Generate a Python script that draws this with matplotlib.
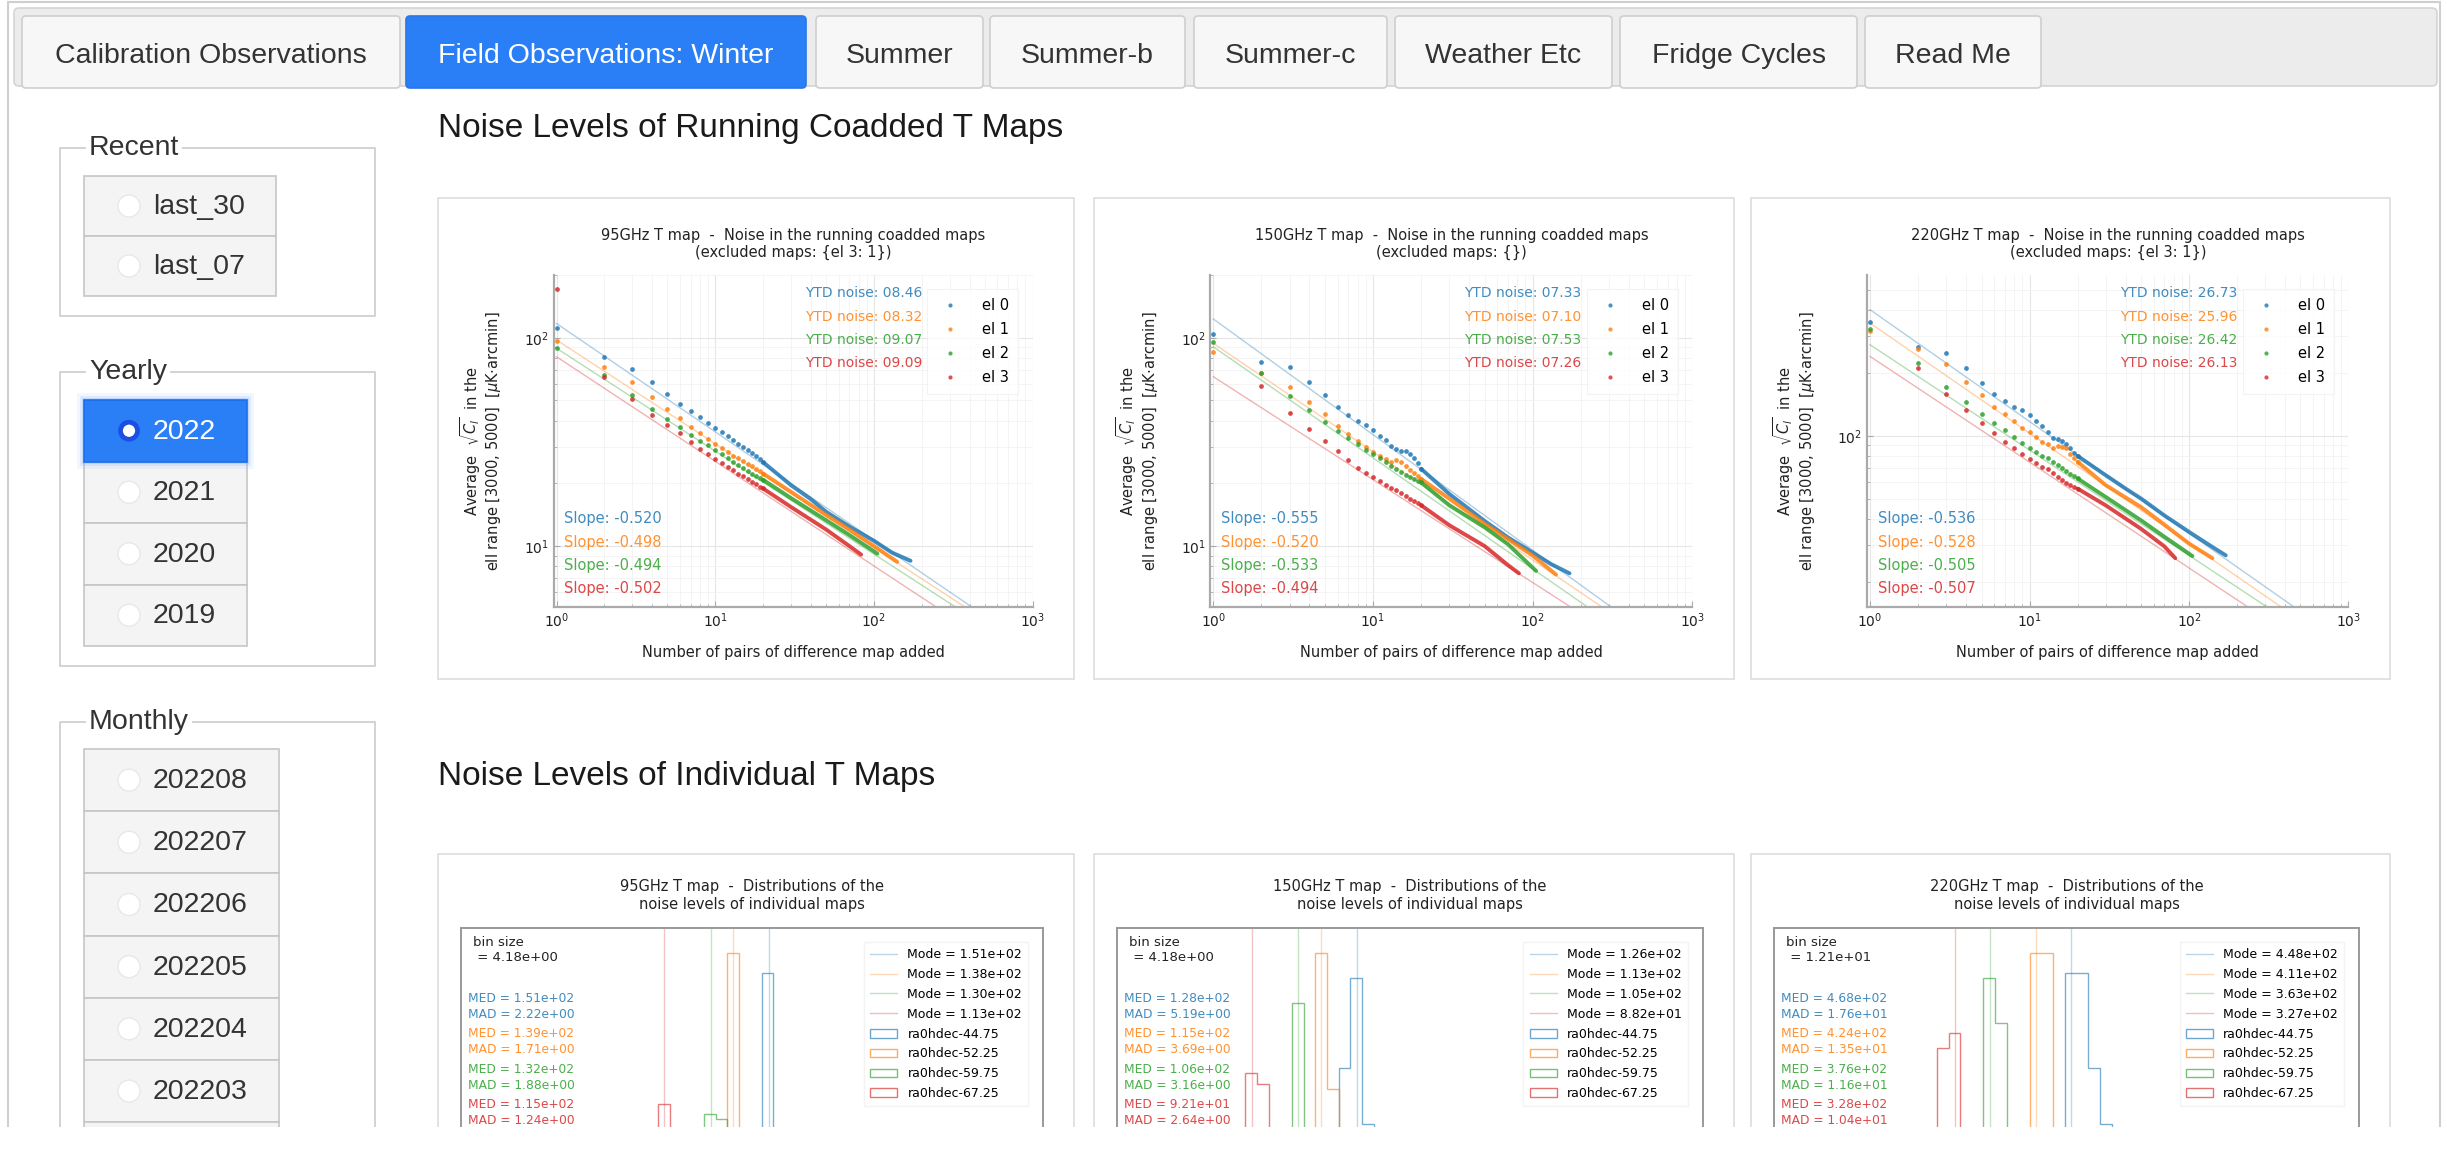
import numpy as np
import matplotlib
matplotlib.use("Agg")
import matplotlib.pyplot as plt
from matplotlib.patches import Rectangle, FancyBboxPatch, Circle, Patch
from matplotlib.lines import Line2D
from matplotlib.ticker import NullFormatter

# Parameters
W, H = 2447, 1149
UI_FONT = "Liberation Sans"
COLORS = ["#1f77b4", "#ff7f0e", "#2ca02c", "#d62728"]
EL_NAMES = ["el 0", "el 1", "el 2", "el 3"]
FIELD_NAMES = ["ra0hdec-44.75", "ra0hdec-52.25", "ra0hdec-59.75", "ra0hdec-67.25"]
nan = np.nan

# Page texts
tab_labels = ["Calibration Observations", "Field Observations: Winter", "Summer", "Summer-b",
              "Summer-c", "Weather Etc", "Fridge Cycles", "Read Me"]
recent_items = ["last_30", "last_07"]
yearly_items = ["2022", "2021", "2020", "2019"]
monthly_items = ["202208", "202207", "202206", "202205", "202204", "202203"]

# Data: running coadded noise levels (first 20 coadds as single points, then the dense tail)
bands = ["95GHz", "150GHz", "220GHz"]
excluded = ["{el 3: 1}", "{}", "{el 3: 1}"]
head_n = list(range(1, 21))

head_95 = [
    [111, 81, 71, 61, 53.4, 48, 44.4, 41.6, 39, 37, 35.2, 33.7, 32.3, 31.0, 29.9, 28.9, 28.0, 27.0, 26.1, 25.3],
    [96.3, 72, 61, 52, 45.7, 41.3, 37.3, 35, 32.8, 31, 29.6, 28.3, 27.2, 26.4, 25.7, 24.9, 24.2, 23.5, 22.9, 22.3],
    [88.8, 66, 53, 45.7, 40.6, 37.3, 34.3, 32, 30.5, 29, 27.6, 26.4, 25.4, 24.6, 23.8, 23.0, 22.3, 21.8, 21.3, 20.8],
    [171, 65, 51, 42.5, 38, 34.7, 31.6, 29.3, 27.8, 26.3, 25.1, 24.0, 23.1, 22.3, 21.6, 21.0, 20.4, 19.8, 19.3, 18.9],
]
tail_n_95 = [
    [20, 30, 40, 50, 70, 100, 130, 170],
    [20, 30, 50, 70, 100, 140],
    [20, 30, 50, 70, 105],
    [20, 30, 50, 70, 83],
]
tail_v_95 = [
    [25.3, 19.6, 16.8, 14.6, 12.4, 10.6, 9.3, 8.5],
    [22.3, 18.2, 14.1, 12.0, 10.0, 8.4],
    [20.8, 17.0, 13.3, 11.3, 9.2],
    [18.9, 15.4, 12.0, 10.0, 9.1],
]

head_150 = [
    [104, 76.7, 72, 61.4, 53, 46.4, 42.8, 39.7, 38, 36, 33.8, 32.2, 30.2, 29.3, 28.5, 28.6, 27.8, 26.4, 25.0, 23.5],
    [85, 68, 57.7, 49.3, 43, 37.6, 34.4, 32, 30, 28.3, 27.2, 26.3, 25.4, 25.8, 25.2, 24.2, 23.2, 22.4, 21.7, 21.0],
    [95.7, 67.4, 52.5, 45, 39.5, 35.7, 33, 31, 28.8, 27.6, 26.4, 25.2, 24.3, 23.5, 22.7, 22.0, 21.5, 21.0, 20.6, 20.2],
    [nan, 58.8, 43.3, 36.6, 31.9, 28.5, 26, 23.8, 22.5, 21.5, 20.5, 19.6, 19.1, 18.5, 17.9, 17.4, 16.9, 16.5, 16.1, 15.7],
]
tail_n_150 = [
    [20, 30, 50, 70, 100, 130, 170],
    [20, 30, 50, 70, 100, 140],
    [20, 30, 50, 70, 105],
    [20, 30, 50, 70, 82],
]
tail_v_150 = [
    [23.5, 17.8, 13.2, 11.0, 9.3, 8.2, 7.4],
    [21.0, 16.9, 12.8, 10.8, 9.0, 7.3],
    [20.2, 15.7, 12.3, 10.2, 7.6],
    [15.7, 12.6, 10.0, 8.1, 7.4],
]

head_220 = [
    [351, 265, 249, 211, 180, 159, 147, 137, 133, 126, 118, 111, 104, 98, 96, 94, 91, 87, 83, 80],
    [318, 261, 220, 182, 157, 137, 127, 118, 108.5, 104.5, 99, 93.6, 91, 87, 89.5, 88, 87, 82, 78, 75],
    [325, 223, 172, 145, 127, 115, 106, 98.9, 92.5, 87.6, 83.5, 80, 78, 75, 72.3, 70, 67.5, 65.5, 64, 62.4],
    [nan, 211, 159, 133, 115, 103.4, 93.6, 87, 81.6, 77.8, 74, 71, 69, 66, 63.5, 61.5, 59.5, 58, 56.8, 55.8],
]
tail_n_220 = [
    [20, 30, 40, 50, 70, 100, 140, 170],
    [20, 30, 50, 70, 100, 140],
    [20, 30, 50, 70, 105],
    [20, 30, 50, 70, 82],
]
tail_v_220 = [
    [80, 64.7, 55.8, 50, 41.5, 34.6, 29.3, 26.7],
    [75, 58, 45.5, 37.5, 30.4, 25.9],
    [62.4, 50.9, 39.3, 32.8, 26.5],
    [55.8, 46.4, 35.8, 29.5, 25.9],
]

fit_amp = [[117, 97.5, 89, 81], [123, 94, 90.5, 65], [402, 347, 273, 240]]
fit_slope = [[-0.520, -0.498, -0.494, -0.502],
             [-0.555, -0.520, -0.533, -0.494],
             [-0.536, -0.528, -0.505, -0.507]]
ytd_noise = [[8.46, 8.32, 9.07, 9.09], [7.33, 7.10, 7.53, 7.26], [26.73, 25.96, 26.42, 26.13]]
coadd_ylim = [(5.1, 200), (5.1, 200), (15.1, 590)]

# Data: distributions of individual map noise
bin_size = [4.18, 4.18, 12.1]
bin_start = [98.26, 77.64, 284.0]
hist_counts = [
    [
        [0, 0, 0, 0, 0, 0, 0, 0, 0, 0, 3, 16, 51, 19, 5, 1],
        [0, 0, 0, 0, 0, 0, 0, 3, 14, 55, 18, 4, 0, 0, 0, 0],
        [0, 0, 0, 0, 0, 2, 8, 23, 22, 5, 1, 0, 0, 0, 0, 0],
        [0, 2, 9, 25, 12, 4, 1, 0, 0, 0, 0, 0, 0, 0, 0, 0],
    ],
    [
        [0, 0, 0, 0, 0, 0, 0, 0, 0, 8, 32, 50, 21, 6, 2, 0],
        [0, 0, 0, 0, 0, 0, 0, 12, 55, 28, 6, 1, 0, 0, 0, 0],
        [0, 0, 0, 0, 4, 15, 45, 17, 3, 0, 0, 0, 0, 0, 0, 0],
        [1, 6, 31, 29, 10, 2, 0, 0, 0, 0, 0, 0, 0, 0, 0, 0],
    ],
    [
        [0, 0, 0, 0, 0, 0, 0, 0, 0, 0, 0, 0, 9, 51, 51, 32, 21, 6, 1],
        [0, 0, 0, 0, 0, 0, 0, 0, 0, 8, 55, 55, 11, 2, 0, 0, 0, 0, 0],
        [0, 0, 0, 0, 0, 12, 50, 41, 18, 0, 0, 0, 0, 0, 0, 0, 0, 0, 0],
        [2, 10, 36, 39, 15, 3, 0, 0, 0, 0, 0, 0, 0, 0, 0, 0, 0, 0, 0],
    ],
]
hist_mode = [[151, 138, 130, 113], [126, 113, 105, 88.2], [448, 411, 363, 327]]
hist_med = [[151, 139, 132, 115], [128, 115, 106, 92.1], [468, 424, 376, 328]]
hist_mad = [[2.22, 1.71, 1.88, 1.24], [5.19, 3.69, 3.16, 2.64], [17.6, 13.5, 11.6, 10.4]]
hist_xlim = [(39, 251), (40, 250), (139, 747)]


# Methods
def px_axes(fig, x0, y0, x1, y1, **kw):
    return fig.add_axes([x0 / W, 1 - y1 / H, (x1 - x0) / W, (y1 - y0) / H], **kw)


def draw_button(ax, x0, x1, y0, y1, label, selected=False):
    if selected:
        for grow, a in [(7, 0.10), (4, 0.18), (2, 0.3)]:
            ax.add_patch(Rectangle((x0 - grow, y0 - grow), x1 - x0 + 2 * grow, y1 - y0 + 2 * grow,
                                   facecolor="#7fb0ff", edgecolor="none", alpha=a, zorder=3))
        ax.add_patch(Rectangle((x0, y0), x1 - x0, y1 - y0, facecolor="#2b7ff6",
                               edgecolor="#1d6ee8", lw=1.2, zorder=4))
        ax.add_patch(Circle((129, (y0 + y1) / 2), 8.5, facecolor="white",
                            edgecolor="#1b4ee3", lw=3.4, zorder=5))
        tcolor = "white"
    else:
        ax.add_patch(Rectangle((x0, y0), x1 - x0, y1 - y0, facecolor="#f4f4f4",
                               edgecolor="#c6c6c6", lw=1.2, zorder=2))
        ax.add_patch(Circle((129, (y0 + y1) / 2), 11, facecolor="white",
                            edgecolor="#e8e8e8", lw=1.0, zorder=3))
        tcolor = "#333333"
    if label:
        ax.text(153, (y0 + y1) / 2 + 1, label, fontsize=20.5, family=UI_FONT,
                color=tcolor, va="center", ha="left", zorder=6)


def draw_fieldset(ax, y0, y1, title):
    ax.add_patch(Rectangle((60, y0), 315, y1 - y0, facecolor="none",
                           edgecolor="#cccccc", lw=1.2, zorder=1))
    ax.text(89, y0, title, fontsize=20.5, family=UI_FONT, color="#333333", va="center",
            ha="left", zorder=2, bbox=dict(facecolor="white", edgecolor="none", pad=2))


def plot_coadd(ax, k, head, tail_n, tail_v):
    for i in range(4):
        c = COLORS[i]
        a, s = fit_amp[k][i], fit_slope[k][i]
        ax.plot([1, 1000], [a, a * 1000 ** s], color=c, lw=1.0, alpha=0.35, zorder=2)
        ax.plot(tail_n[i], tail_v[i], color=c, lw=2.8, alpha=0.85,
                solid_capstyle="round", zorder=3)
        ax.plot(head_n, head[i], "o", ms=3.4, mew=0, color=c, alpha=0.85, zorder=3)
    ax.set_xscale("log")
    ax.set_yscale("log")
    ax.set_xlim(0.96, 1000)
    ax.set_ylim(*coadd_ylim[k])
    ax.yaxis.set_minor_formatter(NullFormatter())
    ax.grid(True, which="major", color="#e6e6e6", lw=0.8)
    ax.grid(True, which="minor", color="#f2f2f2", lw=0.6)
    for side in ["top", "right"]:
        ax.spines[side].set_visible(False)
    for side in ["left", "bottom"]:
        ax.spines[side].set_color("#aaaaaa")
        ax.spines[side].set_linewidth(1.6)
    ax.tick_params(which="both", direction="in", colors="#aaaaaa", labelcolor="#222222",
                   labelsize=10)
    ax.tick_params(which="major", length=4)
    ax.tick_params(which="minor", length=2.5)
    ax.set_title(f"{bands[k]} T map  -  Noise in the running coadded maps\n"
                 f"(excluded maps: {excluded[k]})", fontsize=10.5, pad=13, color="#222222")
    ax.set_xlabel("Number of pairs of difference map added", fontsize=10.5, color="#222222")
    ax.xaxis.set_label_coords(0.5, -0.115)
    ax.set_ylabel("Average  $\\sqrt{C_l}$  in the\n"
                  "ell range [3000, 5000]  [$\\mu$K$\\cdot$arcmin]",
                  fontsize=10.5, color="#222222", linespacing=1.1)
    ax.yaxis.set_label_coords(-0.105, 0.5)
    for i in range(4):
        ax.text(0.77, 0.945 - 0.07 * i, f"YTD noise: {ytd_noise[k][i]:05.2f}",
                transform=ax.transAxes, ha="right", va="center", fontsize=10,
                color=COLORS[i], alpha=0.85)
        ax.text(0.022, 0.266 - 0.0703 * i, f"Slope: {fit_slope[k][i]:.3f}",
                transform=ax.transAxes, ha="left", va="center", fontsize=10.5,
                color=COLORS[i], alpha=0.85)
    handles = [Line2D([], [], ls="", marker="o", ms=3, mew=0, color=c, alpha=0.8) for c in COLORS]
    leg = ax.legend(handles, EL_NAMES, loc="upper right", bbox_to_anchor=(0.985, 0.98),
                    fontsize=10.5, labelspacing=0.62, frameon=True, fancybox=False,
                    handletextpad=1.2, borderpad=0.6)
    leg.get_frame().set_edgecolor("#f0f0f0")
    leg.get_frame().set_linewidth(0.8)


def plot_hist(ax, k):
    for i in range(4):
        c = COLORS[i]
        counts = hist_counts[k][i]
        edges = bin_start[k] + bin_size[k] * np.arange(len(counts) + 1)
        ax.stairs(counts, edges, color=c, lw=1.0, alpha=0.6, baseline=0)
        ax.axvline(hist_mode[k][i], color=c, lw=1.0, alpha=0.28)
    ax.set_xlim(*hist_xlim[k])
    ax.set_ylim(0, 60)
    ax.set_xticks([])
    ax.set_yticks([])
    for sp in ax.spines.values():
        sp.set_color("#999999")
        sp.set_linewidth(1.4)
    ax.set_title(f"{bands[k]} T map  -  Distributions of the\nnoise levels of individual maps",
                 fontsize=10.5, pad=14, color="#222222")
    ax.text(0.02, 0.975, f"bin size\n = {bin_size[k]:.2e}", transform=ax.transAxes,
            ha="left", va="top", fontsize=9.5, color="#222222", linespacing=1.25)
    for i in range(4):
        y = 0.766 - 0.1175 * i
        ax.text(0.012, y, f"MED = {hist_med[k][i]:.2e}", transform=ax.transAxes,
                ha="left", va="center", fontsize=8.8, color=COLORS[i], alpha=0.85)
        ax.text(0.012, y - 0.053, f"MAD = {hist_mad[k][i]:.2e}", transform=ax.transAxes,
                ha="left", va="center", fontsize=8.8, color=COLORS[i], alpha=0.85)
    handles = [Line2D([], [], color=c, lw=1.0, alpha=0.3) for c in COLORS]
    handles += [Patch(facecolor="none", edgecolor=c, lw=1.0, alpha=0.65) for c in COLORS]
    labels = [f"Mode = {m:.2e}" for m in hist_mode[k]] + FIELD_NAMES
    leg = ax.legend(handles, labels, loc="upper right", bbox_to_anchor=(0.985, 0.975),
                    fontsize=9, labelspacing=0.55, frameon=True, fancybox=False,
                    handlelength=2.2, borderpad=0.5)
    leg.get_frame().set_edgecolor("#f0f0f0")


# Main
if __name__ == "__main__":
    fig = plt.figure(figsize=(W / 100, H / 100), dpi=100)
    fig.patch.set_facecolor("white")
    page = fig.add_axes([0, 0, 1, 1])
    page.set_xlim(0, W)
    page.set_ylim(H, 0)
    page.axis("off")

    # Outer page frame
    page.add_patch(Rectangle((8, 2), 2432, 1300, facecolor="white", edgecolor="#cfcfcf", lw=1.5))

    # Tab bar
    page.add_patch(FancyBboxPatch((14, 8), 2423, 78, boxstyle="round,pad=0,rounding_size=5",
                                  facecolor="#ececec", edgecolor="#d4d4d4", lw=1.2))
    tab_x = [(22, 400), (406, 806), (816, 983), (990, 1185), (1194, 1387),
             (1395, 1612), (1620, 1857), (1865, 2041)]
    for j, (label, (x0, x1)) in enumerate(zip(tab_labels, tab_x)):
        sel = j == 1
        page.add_patch(FancyBboxPatch((x0, 16), x1 - x0, 72, boxstyle="round,pad=0,rounding_size=4",
                                      facecolor="#2b7ff6" if sel else "#f7f7f7",
                                      edgecolor="#2a76e8" if sel else "#cfcfcf", lw=1.2))
        page.text((x0 + x1) / 2, 56, label, fontsize=20.5, family=UI_FONT,
                  color="white" if sel else "#333333", ha="center", va="center")

    # Sidebar
    draw_fieldset(page, 148, 316, "Recent")
    for j, lab in enumerate(recent_items):
        draw_button(page, 84, 276, 176 + 60 * j, 236 + 60 * j, lab)
    draw_fieldset(page, 372, 666, "Yearly")
    for j, lab in enumerate(yearly_items):
        draw_button(page, 84, 247, 400 + 61.5 * j, 461.5 + 61.5 * j, lab, selected=(j == 0))
    draw_fieldset(page, 722, 1400, "Monthly")
    for j, lab in enumerate(monthly_items):
        draw_button(page, 84, 279, 749 + 62.2 * j, 811.2 + 62.2 * j, lab)
    # next month button, only its top edge is visible before the cut
    draw_button(page, 84, 279, 749 + 62.2 * len(monthly_items),
                811.2 + 62.2 * len(monthly_items), "")

    # Section headings
    page.text(438, 128, "Noise Levels of Running Coadded T Maps", fontsize=24, family=UI_FONT,
              color="#1a1a1a", va="center", ha="left")
    page.text(438, 776, "Noise Levels of Individual T Maps", fontsize=24, family=UI_FONT,
              color="#1a1a1a", va="center", ha="left")

    # Chart panels
    panel_x = [(438, 1074), (1094, 1734), (1751, 2390)]
    for x0, x1 in panel_x:
        page.add_patch(Rectangle((x0, 198), x1 - x0, 481, facecolor="white", edgecolor="#dddddd", lw=1.2))
        page.add_patch(Rectangle((x0, 854), x1 - x0, 500, facecolor="white", edgecolor="#dddddd", lw=1.2))

    heads = [head_95, head_150, head_220]
    tails_n = [tail_n_95, tail_n_150, tail_n_220]
    tails_v = [tail_v_95, tail_v_150, tail_v_220]
    for k, (x0, x1) in enumerate(panel_x):
        w = x1 - x0
        ax = px_axes(fig, x0 + 0.182 * w, 275, x0 + 0.935 * w, 607)
        plot_coadd(ax, k, heads[k], tails_n[k], tails_v[k])
        axh = px_axes(fig, x0 + 0.036 * w, 928, x0 + 0.952 * w, 1229)
        plot_hist(axh, k)

    # Screenshot is cut at the bottom
    fig.add_artist(Rectangle((0, 0), 1, (H - 1127) / H, transform=fig.transFigure,
                             facecolor="white", edgecolor="none", zorder=50))

    fig.savefig("out.png", dpi=100, facecolor="white")
